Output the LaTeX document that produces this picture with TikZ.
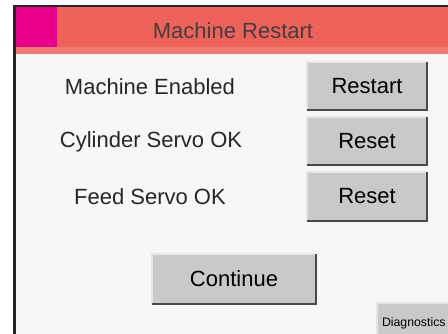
\documentclass[tikz,border=0pt]{standalone}
\usepackage{fontspec}
\setmainfont{Liberation Sans}
\usepackage{tikz}
\usetikzlibrary{positioning, calc}

\definecolor{hdrred}{HTML}{EE6259}
\definecolor{hdrpink}{HTML}{EA008B}
\definecolor{panelbg}{HTML}{F7F7F5}
\definecolor{btnfill}{HTML}{C9C9C9}
\definecolor{btnedge}{HTML}{4A4A4A}
\definecolor{btnlight}{HTML}{E6E6E6}

\tikzset{
  btn/.style={fill=btnfill, inner sep=0pt, font=\fontsize{22}{24}\selectfont},
  lbl/.style={font=\fontsize{22}{24}\selectfont, text=black!85}
}

\begin{document}
\begin{tikzpicture}[x=1pt, y=-1pt]
\clip (0,0) rectangle (448,334);
\fill[white] (0,0) rectangle (448,334);
% Panel and frame
\fill[panelbg] (16,7) rectangle (448,334);
\fill[black!85] (13,5) rectangle (448,7);
\fill[black!85] (13,5) rectangle (16,334);

% Header bar
\fill[hdrred] (16,7) rectangle (448,53);
\fill[hdrred!85!white] (16,47) rectangle (448,54);
\fill[hdrpink] (16,7) rectangle (57,47);
\node[lbl, text=black!75] (title) at (233,31) {Machine Restart};

% Status labels
\node[lbl] (enabled) at (150,87) {Machine Enabled};
\node[lbl] (cylinder) at (151,142) {Cylinder Servo OK};
\node[lbl] (feed) at (150,197) {Feed Servo OK};

% Buttons
\node[btn, minimum width=120, minimum height=48] (restart) at (367,86) {Restart};
\node[btn, minimum width=120, minimum height=48] (resetcyl) at (367,141) {Reset};
\node[btn, minimum width=120, minimum height=49] (resetfeed) at (367,196.5) {Reset};
\node[btn, minimum width=164, minimum height=50] (continue) at (234,279) {Continue};
\node[btn, minimum width=90, minimum height=40, font=\fontsize{12.3}{14}\selectfont,
      text width=80, align=left, inner sep=0pt] (diag) at (422,323) {Diagnostics};

% Bevel edges
\foreach \b in {restart, resetcyl, resetfeed, continue, diag} {
  \draw[btnlight, line width=1.5] (\b.south west) -- (\b.north west) -- (\b.north east);
  \draw[btnedge, line width=2] (\b.south west) -- (\b.south east) -- (\b.north east);
}
\end{tikzpicture}
\end{document}
